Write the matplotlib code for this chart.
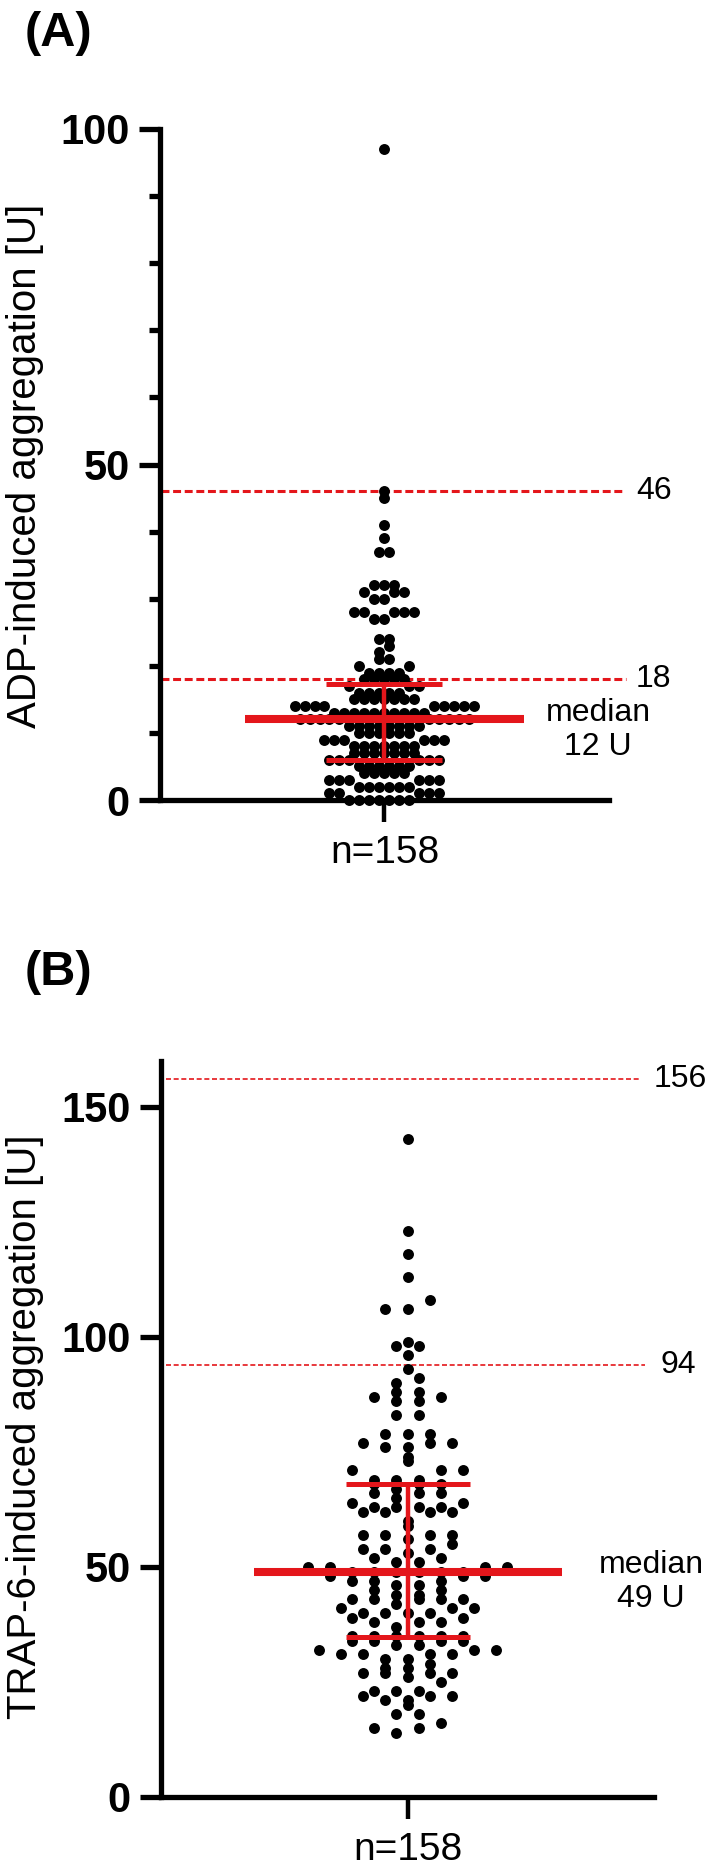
import matplotlib
matplotlib.use("Agg")
import matplotlib.pyplot as plt
import numpy as np

plt.rcParams["font.family"] = ["Liberation Sans", "DejaVu Sans"]

# ADP-induced aggregation [U], one value per patient (n=158)
adp_values = [0, 0, 0, 0, 0, 0, 0, 1, 1, 1, 1, 1, 2, 2, 2, 2, 2, 2,
              3, 3, 3, 3, 3, 3, 4, 4, 4, 4, 4, 5, 5, 5, 5, 5, 5,
              6, 6, 6, 6, 6, 6, 7, 7, 7, 7, 7, 7, 7, 8, 8, 8, 8, 8, 8, 8,
              9, 9, 9, 9, 9, 9, 10, 10, 10, 10, 10, 10,
              11, 11, 11, 11, 11, 11, 11, 11,
              12, 12, 12, 12, 12, 12, 12, 12, 12, 12,
              13, 13, 13, 13, 13, 13, 13, 13, 13, 13,
              14, 14, 14, 14, 14, 14, 14, 14, 14,
              15, 15, 15, 15, 15, 15, 15, 16, 16, 16, 16, 16, 17, 17, 17,
              18, 18, 18, 18, 18, 19, 19, 19, 19, 20, 20, 21, 21, 22, 23, 24, 24,
              27, 27, 28, 28, 28, 28, 28, 30, 30, 31, 31, 31, 32, 32, 32,
              37, 37, 39, 41, 45, 46, 97]

# TRAP-6-induced aggregation [U] (n=158)
trap_values = [143, 123, 118, 113, 108, 106, 106, 99, 98, 98, 96, 93, 91, 90, 88,
               87, 86, 86, 88, 87, 83, 83, 79, 79, 79, 77, 77, 76, 76, 77,
               74, 73, 71, 71, 71, 69, 69, 69, 68, 68, 68, 66, 66, 67, 66,
               63, 63, 65, 63, 62, 62, 62, 62, 64, 63, 64,
               60, 59, 56, 57, 54, 54, 57, 54, 55, 57, 53, 57,
               52, 52, 51, 51, 50, 50, 50,
               49, 49, 50, 48, 49, 49, 49, 49, 48,
               47, 48, 46, 47, 47, 45, 46, 45,
               43, 43, 43, 43, 42, 43, 44, 44,
               41, 41, 40, 40, 39, 40, 39, 40, 38, 41,
               37, 38, 38, 35, 33, 35, 35, 35, 34, 35, 34, 34, 35, 34,
               31, 32, 30, 32, 33, 30, 31, 28, 25, 32, 29, 26, 31, 28, 31,
               27, 27, 27, 27,
               22, 23, 23, 22, 23, 22, 21, 21, 20, 18, 18,
               15, 15, 16, 14]

adp_refs = [46, 18]
trap_refs = [156, 94]
n_label = "n=158"

RED = "#e4161b"
W, H = 707, 1872


def lane_offsets(values, bin_h, spacing):
    # prism-like scatter: values in the same row are spread around the centre
    values = np.asarray(values, float)
    xs = np.zeros(len(values))
    bins = np.floor(values / bin_h).astype(int)
    for b in np.unique(bins):
        idx = np.where(bins == b)[0]
        idx = idx[np.argsort(values[idx], kind="stable")]
        n = len(idx)
        slots = (np.arange(n) - (n - 1) / 2.0) * spacing
        order = np.argsort(np.abs(slots), kind="stable")
        xs[idx] = slots[order]
    return xs


def panel(ax, values, ymax, yticks, minor, half_w, bin_h, spacing,
          refs, ref_x0, ref_x1, ref_lx, dash, dash_lw, med_text,
          med_xy, med_half, cap_half):
    values = np.asarray(values, float)
    xs = lane_offsets(values, bin_h, spacing)
    ax.scatter(xs, values, s=62, color="black", linewidths=0, zorder=3, clip_on=False)

    q1, med, q3 = np.percentile(values, [25, 50, 75], method="weibull")
    ax.hlines(med, -med_half, med_half, color=RED, lw=5.8, zorder=5)
    ax.hlines([q1, q3], -cap_half, cap_half, color=RED, lw=3.6, zorder=5)
    ax.vlines(0, q1, q3, color=RED, lw=3.2, zorder=5)

    for r, x1, lx in zip(refs, ref_x1, ref_lx):
        ax.plot([ref_x0, x1], [r, r], color=RED, lw=dash_lw, dashes=dash,
                zorder=2, clip_on=False)
        ax.text(lx, r, str(r), fontsize=23, ha="left", va="center", clip_on=False)

    ax.text(med_xy[0], med_xy[1], med_text, fontsize=23, ha="center", va="center",
            linespacing=1.15)

    ax.set_xlim(-half_w, half_w)
    ax.set_ylim(0, ymax)
    ax.set_yticks(yticks)
    ax.set_yticklabels([str(t) for t in yticks], fontsize=30, fontweight="bold")
    if minor:
        ax.set_yticks(minor, minor=True)
    ax.set_xticks([0])
    ax.set_xticklabels([n_label], fontsize=28)
    for s in ["top", "right"]:
        ax.spines[s].set_visible(False)
    for s in ["left", "bottom"]:
        ax.spines[s].set_linewidth(3.8)
    ax.tick_params(axis="y", which="major", length=15, width=3.8, pad=7)
    ax.tick_params(axis="y", which="minor", length=8, width=3.8)
    ax.tick_params(axis="x", length=15.5, width=3.2, pad=10)


fig = plt.figure(figsize=(W / 100, H / 100), dpi=100)

# panel A: axis from x=160..609 px, y 0 at 800 px, 100 at 129 px
axA = fig.add_axes([160 / W, 1 - 800 / H, 449 / W, 671 / H])
panel(axA, adp_values, 100, [0, 50, 100], [10, 20, 30, 40, 60, 70, 80, 90],
      224.5, 1.56, 10, adp_refs, -223.5, [238.5, 241.5], [251.5, 251.5],
      (2.6, 1.2), 2.2, "median\n12 U", (213.5, 10.4), 140, 58)

# panel B: axis from x=161..654 px, y 0 at 1797 px, 160 at 1061 px
axB = fig.add_axes([161 / W, 1 - 1797 / H, 493 / W, 736 / H])
panel(axB, trap_values, 160, [0, 50, 100, 150], None,
      246.5, 2.3, 22.2, trap_refs, -241.5, [232.5, 237.5], [246.5, 253.5],
      (3.0, 1.6), 1.2, "median\n49 U", (243.5, 46.7), 154, 62)

fig.text(25 / W, 1 - 466 / H, "ADP-induced aggregation [U]", rotation=90,
         fontsize=29, ha="center", va="center")
fig.text(25 / W, 1 - 1427 / H, "TRAP-6-induced aggregation [U]", rotation=90,
         fontsize=29, ha="center", va="center")

fig.text(25 / W, 1 - 33 / H, "(A)", fontsize=35, fontweight="bold", ha="left", va="center")
fig.text(25 / W, 1 - 972 / H, "(B)", fontsize=35, fontweight="bold", ha="left", va="center")

fig.savefig("out.png", dpi=100)
